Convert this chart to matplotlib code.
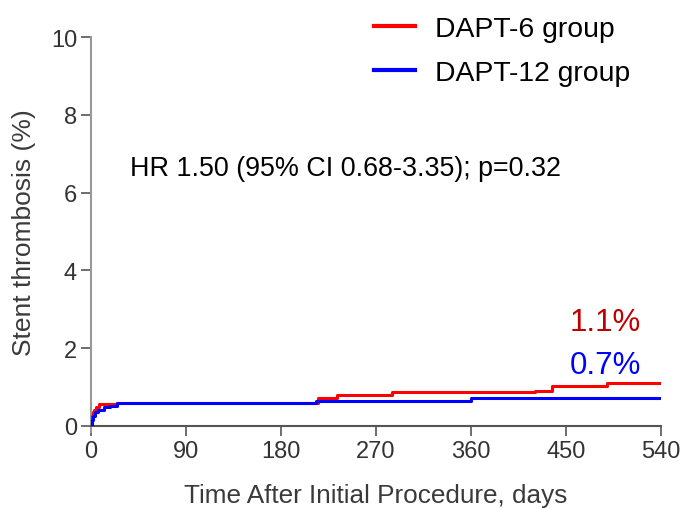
import matplotlib
matplotlib.use("Agg")
import matplotlib.pyplot as plt
from matplotlib.lines import Line2D

plt.rcParams['font.family'] = ['Liberation Sans', 'DejaVu Sans']

red_days = [0, 1, 2, 3, 5, 8, 15, 25, 210, 215, 233, 285, 421, 437, 489, 540]
red_vals = [0, 0.25, 0.35, 0.42, 0.5, 0.57, 0.57, 0.6, 0.6, 0.72, 0.8, 0.87, 0.9, 1.03, 1.1, 1.1]
blue_days = [0, 1, 2, 4, 7, 12, 18, 25, 213, 360, 540]
blue_vals = [0, 0.15, 0.25, 0.35, 0.42, 0.48, 0.52, 0.6, 0.65, 0.72, 0.72]

x_ticks = [0, 90, 180, 270, 360, 450, 540]
y_ticks = [0, 2, 4, 6, 8, 10]
series_names = ["DAPT-6 group", "DAPT-12 group"]
end_labels = ["1.1%", "0.7%"]
hr_text = "HR 1.50 (95% CI 0.68-3.35); p=0.32"

red = "#ff0000"
blue = "#0000ff"
red_text = "#c00000"

fig = plt.figure(figsize=(6.85, 5.1), dpi=100)
ax = fig.add_axes([91/685, 83/510, 570/685, 389/510])

ax.step(red_days, red_vals, where='post', color=red, lw=2.2, zorder=3)
ax.step(blue_days, blue_vals, where='post', color=blue, lw=2.2, zorder=4)

ax.set_xlim(0, 540)
ax.set_ylim(0, 10)
ax.set_xticks(x_ticks)
ax.set_yticks(y_ticks)
ax.tick_params(axis='both', direction='out', length=7, width=1.2, color='#555555',
               labelsize=17, labelcolor='#333333', pad=3)
for s in ['top', 'right']:
    ax.spines[s].set_visible(False)
ax.spines['left'].set_color('#999999')
ax.spines['left'].set_linewidth(1.5)
ax.spines['bottom'].set_color('#555555')
ax.spines['bottom'].set_linewidth(1.5)
ax.spines['left'].set_bounds(-0.15, 10)

ax.set_xlabel("Time After Initial Procedure, days", fontsize=18.8, color='#3a3a3a', labelpad=15)
ax.set_ylabel("Stent thrombosis (%)", fontsize=19, color='#3a3a3a', labelpad=11)

ax.text(0.068, 0.662, hr_text, transform=ax.transAxes, fontsize=19.4, color='black',
        ha='left', va='center')

ax.text(0.965, 0.268, end_labels[0], transform=ax.transAxes, fontsize=22.5, color=red_text,
        ha='right', va='center')
ax.text(0.965, 0.158, end_labels[1], transform=ax.transAxes, fontsize=22.5, color=blue,
        ha='right', va='center')

handles = [Line2D([], [], color=red, lw=3), Line2D([], [], color=blue, lw=3)]
leg = fig.legend(handles, series_names, loc='upper left', bbox_to_anchor=(357/685, 1.0),
                 frameon=False, fontsize=20.4, handlelength=1.45, handletextpad=0.7,
                 labelspacing=0.62, borderaxespad=0.2)

fig.savefig("out.png", dpi=100)
